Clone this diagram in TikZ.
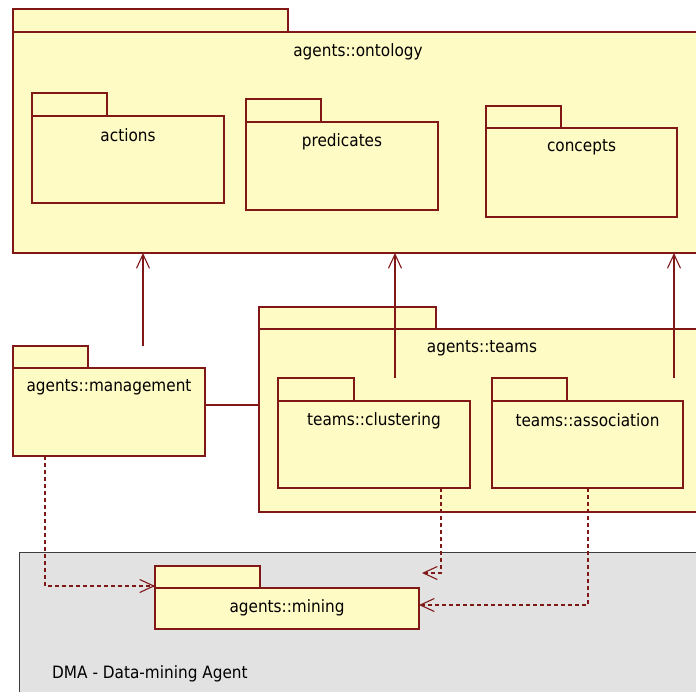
\documentclass[tikz,border=0pt]{standalone}
\usepackage{fontspec}
\setmainfont{DejaVu Sans}[FakeStretch=0.9]
\usetikzlibrary{arrows.meta,calc}
\definecolor{pkgfill}{RGB}{255,251,196}
\definecolor{pkgline}{RGB}{128,24,24}
\definecolor{framefill}{RGB}{226,226,226}
\definecolor{frameline}{RGB}{60,60,60}

% UML package: name, x, y (top-left of body), body w, body h, tab w, tab h, label
\newcommand\umlpkg[8]{%
  \node[pkgbox,minimum width=#6pt,minimum height=#7pt] (#1tab) at (#2,{#3-#7}) {};
  \node[pkgbox,minimum width=#4pt,minimum height=#5pt] (#1) at (#2,#3) {};
  \node[lbl] (#1label) at ($(#1.north)+(0,19.5)$) {#8};
}

\begin{document}
\begin{tikzpicture}[x=1pt,y=-1pt,
  pkgbox/.style={draw=pkgline,fill=pkgfill,line width=1.3pt,anchor=north west,
                 inner sep=0pt,outer sep=0pt},
  lbl/.style={font=\fontsize{17}{19}\selectfont,text=black,inner sep=0pt},
  dep/.style={draw=pkgline,line width=1.3pt,
              -{Straight Barb[length=14pt,width=13pt,line width=1.1pt]}},
  usedep/.style={dep,dash pattern=on 4pt off 3pt},
  plain/.style={draw=pkgline,line width=1.3pt}]

\useasboundingbox (0,0) rectangle (696,691);
\fill[white] (0,0) rectangle (696,691);
\clip (0,0) rectangle (696,691);

% ontology package and its contents
\umlpkg{ontology}{13}{32}{690}{221}{275}{23}{agents::ontology}
\umlpkg{actions}{32}{116}{192}{87}{75}{23}{actions}
\umlpkg{predicates}{246}{122}{192}{88}{75}{23}{predicates}
\umlpkg{concepts}{486}{128}{191}{89}{75}{22}{concepts}

% management and teams packages
\umlpkg{management}{13}{368}{192}{88}{75}{22}{agents::management}
\umlpkg{teams}{259}{329}{446}{183}{177}{22}{agents::teams}
\umlpkg{clustering}{278}{401}{192}{87}{76}{23}{teams::clustering}
\umlpkg{association}{492}{401}{191}{87}{75}{23}{teams::association}

% DMA frame with the mining package
\node[draw=frameline,fill=framefill,line width=1.3pt,anchor=north west,
      inner sep=0pt,minimum width=700pt,minimum height=160pt] (dma) at (19,552) {};
\node[lbl,anchor=west] (dmalabel) at (52,674) {DMA - Data-mining Agent};
\umlpkg{mining}{155}{588}{264}{41}{105}{22}{agents::mining}

% imports into the ontology
\coordinate (mgmtUp) at (143,346);
\coordinate (clUp) at (395,378);
\coordinate (asUp) at (674,378);
\draw[dep] (mgmtUp) -- (mgmtUp |- ontology.south);
\draw[dep] (clUp) -- (clUp |- ontology.south);
\draw[dep] (asUp) -- (asUp |- ontology.south);

% association between management and teams
\coordinate (mt) at (205,405);
\draw[plain] (mt) -- (mt -| teams.west);

% usage dependencies on mining
\coordinate (mgDown) at ($(management.south west)+(32,0)$);
\coordinate (clDown) at ($(clustering.south west)+(163,0)$);
\coordinate (asDown) at ($(association.south west)+(96,0)$);
\coordinate (clEnd) at (422,573);
\draw[usedep] (mgDown) |- ($(miningtab.south west)+(0,-2)$);
\draw[usedep] (clDown) |- (clEnd);
\draw[usedep] (asDown) |- ($(mining.east)+(0,-3.5)$);
\end{tikzpicture}
\end{document}
